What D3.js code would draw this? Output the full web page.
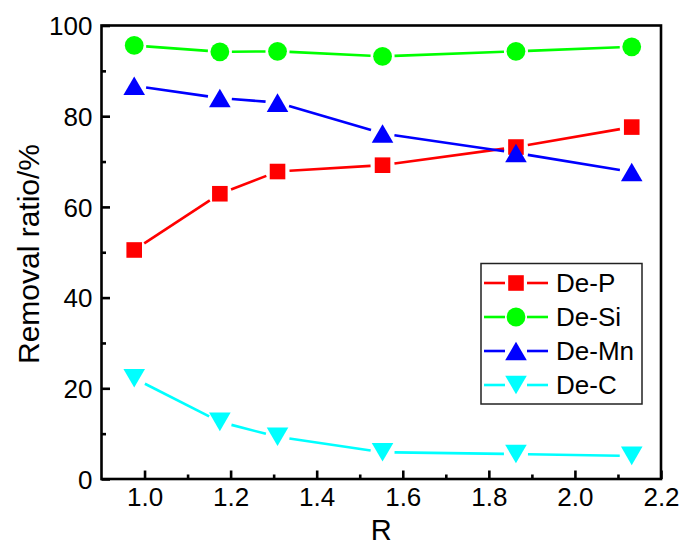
<!DOCTYPE html>
<html>
<head>
<meta charset="utf-8">
<script src="https://cdn.jsdelivr.net/npm/d3@7"></script>
<style>
  body { margin: 0; background: #fff; }
  text { font-family: "Liberation Sans", Arial, sans-serif; }
</style>
</head>
<body>
<script>
'use strict';

// R values (x) and removal ratios
const rValues = [0.976, 1.175, 1.309, 1.553, 1.863, 2.132];
const deP  = [50.5, 62.9, 67.8, 69.2, 73.2, 77.6];
const deSi = [95.6, 94.2, 94.3, 93.2, 94.3, 95.3];
const deMn = [86.7, 84.0, 83.0, 76.2, 71.9, 67.7];
const deC  = [22.2, 12.6, 9.3, 5.9, 5.5, 5.1];
const seriesNames = ['De-P', 'De-Si', 'De-Mn', 'De-C'];
const xTicks = [1.0, 1.2, 1.4, 1.6, 1.8, 2.0, 2.2];
const xMinor = [1.1, 1.3, 1.5, 1.7, 1.9, 2.1];
const yTicks = [0, 20, 40, 60, 80, 100];
const yMinor = [10, 30, 50, 70, 90];

(function() {
  const series = [
    { name: seriesNames[0], values: deP,  color: '#ff0000', shape: 'square' },
    { name: seriesNames[1], values: deSi, color: '#00ff00', shape: 'circle' },
    { name: seriesNames[2], values: deMn, color: '#0000ff', shape: 'up' },
    { name: seriesNames[3], values: deC,  color: '#00ffff', shape: 'down' }
  ];

  const svg = d3.select('body').append('svg')
    .attr('width', 681)
    .attr('height', 545);

  const left = 101.5, right = 661, top = 25.5, bottom = 479;

  const x = d3.scaleLinear().domain([0.9, 2.2]).range([left, right]);
  const y = d3.scaleLinear().domain([0, 100]).range([bottom, top]);

  // marker path centred at 0,0
  function markerPath(shape) {
    if (shape === 'square') return 'M-7.8,-7.8H7.8V7.8H-7.8Z';
    if (shape === 'circle') return d3.symbol().type(d3.symbolCircle).size(Math.PI * 9.4 * 9.4)();
    if (shape === 'up') return 'M0,-9.3L10.8,9.3L-10.8,9.3Z';
    return 'M0,9.3L10.8,-9.3L-10.8,-9.3Z';
  }

  // lines with a small gap round every marker, like Origin does
  const gap = 12;
  series.forEach(function(s) {
    const pts = rValues.map((r, i) => [x(r), y(s.values[i])]);
    for (let i = 0; i < pts.length - 1; i++) {
      const a = pts[i], b = pts[i + 1];
      const dx = b[0] - a[0], dy = b[1] - a[1];
      const len = Math.sqrt(dx * dx + dy * dy);
      if (len <= gap * 2) continue;
      const ux = dx / len, uy = dy / len;
      svg.append('line')
        .attr('x1', a[0] + ux * gap).attr('y1', a[1] + uy * gap)
        .attr('x2', b[0] - ux * gap).attr('y2', b[1] - uy * gap)
        .attr('stroke', s.color)
        .attr('stroke-width', 2.6);
    }
    svg.selectAll(null)
      .data(s.values)
      .enter()
      .append('path')
      .attr('d', markerPath(s.shape))
      .attr('transform', (d, i) => 'translate(' + x(rValues[i]) + ',' + y(d) + ')')
      .attr('fill', s.color);
  });

  // axes with inward ticks
  const xAxis = svg.append('g')
    .attr('transform', 'translate(0,' + bottom + ')')
    .call(d3.axisBottom(x).tickValues(xTicks).tickFormat(d3.format('.1f'))
      .tickSizeInner(-8.5).tickSizeOuter(0).tickPadding(9));
  svg.append('g')
    .attr('transform', 'translate(0,' + bottom + ')')
    .call(d3.axisBottom(x).tickValues(xMinor).tickFormat('').tickSizeInner(-4.5).tickSizeOuter(0));

  const yAxis = svg.append('g')
    .attr('transform', 'translate(' + left + ',0)')
    .call(d3.axisLeft(y).tickValues(yTicks).tickSizeInner(-8.5).tickSizeOuter(0).tickPadding(9));
  svg.append('g')
    .attr('transform', 'translate(' + left + ',0)')
    .call(d3.axisLeft(y).tickValues(yMinor).tickFormat('').tickSizeInner(-4.5).tickSizeOuter(0));

  svg.selectAll('.domain').remove();
  svg.selectAll('.tick line').attr('stroke', '#000').attr('stroke-width', 2.6);
  svg.selectAll('.tick text').attr('fill', '#000').style('font-size', '26px');
  xAxis.selectAll('.tick text').attr('dy', '0.71em');
  yAxis.selectAll('.tick text').attr('dy', '0.35em');

  // frame
  svg.append('rect')
    .attr('x', left).attr('y', top)
    .attr('width', right - left).attr('height', bottom - top)
    .attr('fill', 'none')
    .attr('stroke', '#000')
    .attr('stroke-width', 2.6);

  // axis titles
  svg.append('text')
    .attr('x', (left + right) / 2)
    .attr('y', 540)
    .attr('text-anchor', 'middle')
    .style('font-size', '29px')
    .text('R');

  svg.append('text')
    .attr('transform', 'translate(39,' + 254 + ')rotate(-90)')
    .attr('text-anchor', 'middle')
    .style('font-size', '30px')
    .text('Removal ratio/%');

  // legend
  svg.append('rect')
    .attr('x', 481).attr('y', 263.5)
    .attr('width', 161).attr('height', 140.5)
    .attr('fill', '#fff')
    .attr('stroke', '#222')
    .attr('stroke-width', 1.5);

  series.forEach(function(s, i) {
    const ly = 283 + i * 34;
    svg.append('line').attr('x1', 484).attr('x2', 505).attr('y1', ly).attr('y2', ly)
      .attr('stroke', s.color).attr('stroke-width', 2.6);
    svg.append('line').attr('x1', 527).attr('x2', 548).attr('y1', ly).attr('y2', ly)
      .attr('stroke', s.color).attr('stroke-width', 2.6);
    svg.append('path')
      .attr('d', markerPath(s.shape))
      .attr('transform', 'translate(516,' + ly + ')')
      .attr('fill', s.color);
    svg.append('text')
      .attr('x', 556).attr('y', ly)
      .attr('dy', '0.35em')
      .style('font-size', '26px')
      .text(s.name);
  });
})();
</script>
</body>
</html>
